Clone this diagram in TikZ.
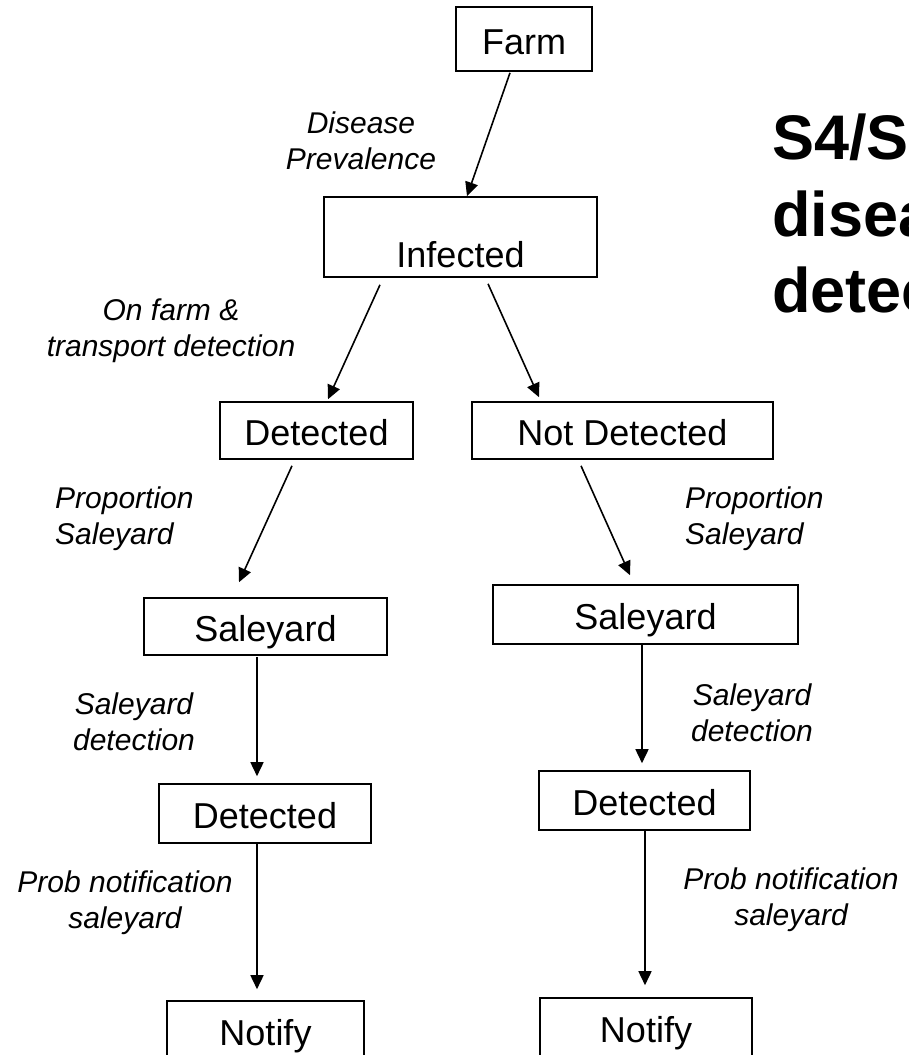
\documentclass[tikz,border=0pt]{standalone}
\usepackage{fontspec}
\setmainfont{Liberation Sans}
\usetikzlibrary{arrows.meta,calc}

\tikzset{
  box/.style={draw, line width=1.6pt, inner sep=0pt, text height=30pt, text depth=0pt,
              font=\fontsize{36}{43}\selectfont},
  lbl/.style={inner sep=0pt, align=center, font=\fontsize{30}{36}\selectfont\itshape},
  arr/.style={line width=1.6pt, -{Triangle[length=14pt,width=13pt]}},
}

\begin{document}
\begin{tikzpicture}[x=1pt,y=-1pt]
\useasboundingbox (0,0) rectangle (908,1055);
\clip (0,0) rectangle (908,1055);

% decision tree boxes
\node[box, minimum width=136, minimum height=64] (farm) at (524,39) {Farm};
\node[box, minimum width=273, minimum height=80, text height=60pt] (infected) at (460.5,237) {Infected};
\node[box, minimum width=193, minimum height=57] (detL) at (316.5,430.5) {Detected};
\node[box, minimum width=301, minimum height=57] (detR) at (622.5,430.5) {Not Detected};
\node[box, minimum width=243, minimum height=57] (saleL) at (265.5,626.5) {Saleyard};
\node[box, minimum width=305, minimum height=59] (saleR) at (645.5,614.5) {Saleyard};
\node[box, minimum width=212, minimum height=59] (dettwoL) at (265,813.5) {Detected};
\node[box, minimum width=211, minimum height=59] (dettwoR) at (644.5,800.5) {Detected};
\node[box, minimum width=197, minimum height=59] (notL) at (265.5,1030.5) {Notify};
\node[box, minimum width=212, minimum height=59] (notR) at (646,1027.5) {Notify};

% branch probabilities
\node[lbl] (lprev) at (361,140.5) {Disease\\Prevalence};
\node[lbl] (ltrans) at (171,331) {On farm \&\\transport detection};
\node[lbl, align=left, anchor=west] (lpropL) at (55,518.5) {Proportion\\Saleyard};
\node[lbl, align=left, anchor=west] (lpropR) at (685,518.5) {Proportion\\Saleyard};
\node[lbl] (lsdL) at (134,721.5) {Saleyard\\detection};
\node[lbl] (lsdR) at (752,713) {Saleyard\\detection};
\node[lbl] (lpnL) at (125,903) {Prob notification\\saleyard};
\node[lbl] (lpnR) at (791,899.5) {Prob notification\\saleyard};

% heading, running off the right edge
\node[inner sep=0pt, anchor=north west, align=left,
      font=\fontsize{63}{76.5}\selectfont\bfseries] (title) at (772,114) {S4/S\\disea\\detec};

% connectors
\draw[arr] ($(farm.south)+(-14,1)$) -- ($(infected.north)+(6.5,0)$);
\draw[arr] ($(infected.south)+(-80.5,7)$) -- ($(detL.north)+(11.5,-2)$);
\draw[arr] ($(infected.south)+(27.5,6)$) -- ($(detR.north)+(-83.5,-4)$);
\draw[arr] ($(detL.south)+(-24.5,6)$) -- ($(saleL.north)+(-26.5,-15)$);
\draw[arr] ($(detR.south)+(-41.5,6)$) -- ($(saleR.north)+(-15.5,-9)$);
\draw[arr] ($(saleL.south)+(-8.5,1)$) -- ($(dettwoL.north)+(-8,-7)$);
\draw[arr] ($(saleR.south)+(-3.5,0)$) -- ($(dettwoR.north)+(-2.5,-7)$);
\draw[arr] ($(dettwoL.south)+(-8,0)$) -- ($(notL.north)+(-8.5,-11)$);
\draw[arr] ($(dettwoR.south)+(0.5,0)$) -- ($(notR.north)+(-1,-12)$);
\end{tikzpicture}
\end{document}
